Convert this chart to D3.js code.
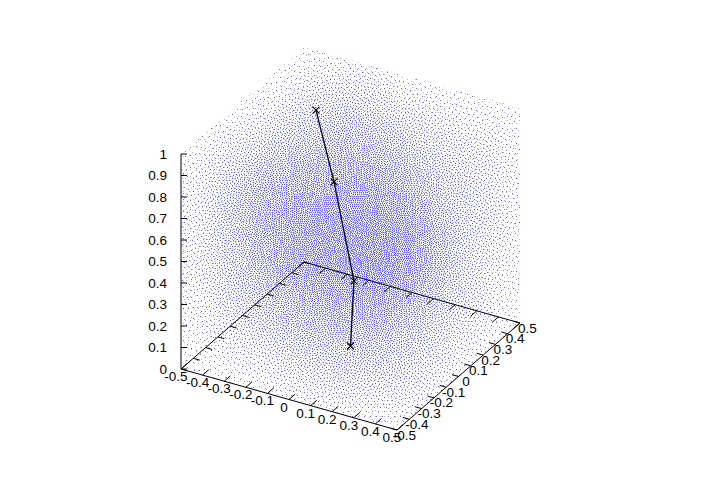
<!DOCTYPE html>
<html>
<head>
<meta charset="utf-8">
<title>Scatter cube</title>
<script src="https://cdn.jsdelivr.net/npm/d3@7.9.0/dist/d3.min.js"></script>
<style>
  html, body { margin: 0; background: #fff; }
  svg { display: block; }
  text { font-family: "Liberation Sans", Helvetica, Arial, sans-serif; font-size: 13.5px; fill: #000; }
</style>
</head>
<body>
<svg id="chart" width="701" height="491"></svg>
<script>
const xTicks = [-0.5, -0.4, -0.3, -0.2, -0.1, 0, 0.1, 0.2, 0.3, 0.4, 0.5];
const yTicks = [-0.5, -0.4, -0.3, -0.2, -0.1, 0, 0.1, 0.2, 0.3, 0.4, 0.5];
const zTicks = [0, 0.1, 0.2, 0.3, 0.4, 0.5, 0.6, 0.7, 0.8, 0.9, 1];

// the black path
const pathX = [-0.1, -0.05, 0.016, 0];
const pathY = [-0.105, -0.046, 0, 0];
const pathZ = [1.121, 0.772, 0.307, 0];

// The cloud has far too many dots to read one by one, so only its density is kept:
// share of covered pixels (%) in 30px screen cells, estimated by eye.
// The dots below are an error diffusion halftone of this table, they are not data points.
const cloudCols = [180, 210, 240, 270, 300, 330, 360, 390, 420, 450, 480, 510];
const cloudRows = [40, 70, 100, 130, 160, 190, 220, 250, 280, 310, 340, 370, 400];
const cloudDensity = [
  [1, 1, 1, 2, 3, 3, 2, 1, 1, 1, 1, 1],
  [1, 1, 2, 4, 8, 9, 8, 4, 3, 2, 2, 2],
  [2, 2, 5, 10, 14, 16, 14, 10, 7, 5, 4, 3],
  [3, 7, 12, 17, 20, 22, 20, 16, 11, 9, 7, 3],
  [5, 12, 19, 24, 27, 28, 27, 22, 15, 11, 8, 3],
  [6, 14, 23, 28, 31, 32, 32, 28, 19, 12, 8, 3],
  [6, 14, 23, 29, 33, 35, 36, 33, 23, 13, 8, 3],
  [6, 13, 21, 28, 33, 35, 36, 33, 23, 12, 7, 3],
  [5, 11, 17, 22, 27, 31, 32, 27, 18, 11, 6, 2],
  [4, 8, 12, 17, 21, 23, 23, 19, 13, 9, 4, 2],
  [3, 5, 7, 11, 14, 16, 16, 14, 10, 5, 2, 1],
  [2, 2, 3, 6, 8, 10, 10, 9, 6, 2, 1, 1],
  [1, 1, 2, 2, 3, 4, 4, 4, 2, 1, 1, 1],
];

// each data axis runs along its own screen direction
const sxX = d3.scaleLinear().domain([-0.5, 0.5]).range([0, 216]);
const syX = d3.scaleLinear().domain([-0.5, 0.5]).range([0, 61]);
const sxY = d3.scaleLinear().domain([-0.5, 0.5]).range([0, 123]);
const syY = d3.scaleLinear().domain([-0.5, 0.5]).range([0, -107]);
const syZ = d3.scaleLinear().domain([0, 1]).range([369, 154]);
const originX = 181;

function project(x, y, z) {
  return [originX + sxX(x) + sxY(y), syZ(z) + syX(x) + syY(y)];
}

const svg = d3.select('#chart');

// outline of the cube on screen
const hull = [
  project(-0.5, -0.5, 1), project(-0.5, 0.5, 1), project(0.5, 0.5, 1),
  project(0.5, 0.5, 0), project(0.5, -0.5, 0), project(-0.5, -0.5, 0),
];
svg.append('clipPath').attr('id', 'hull')
  .append('polygon').attr('points', hull.join(' '));

const cellX = d3.scaleBand().domain(cloudCols).range([180, 540]);
const cellY = d3.scaleBand().domain(cloudRows).range([40, 430]);

// smooth the table between cell centres so the halftone shows no cell edges
function densityAt(x, y) {
  const cell = cellX.bandwidth();
  const u = Math.max(0, Math.min(cloudCols.length - 1.001, x / cell - 0.5));
  const v = Math.max(0, Math.min(cloudRows.length - 1.001, y / cell - 0.5));
  const i = Math.floor(v);
  const j = Math.floor(u);
  const top = d3.interpolateNumber(cloudDensity[i][j], cloudDensity[i][j + 1])(u - j);
  const bottom = d3.interpolateNumber(cloudDensity[i + 1][j], cloudDensity[i + 1][j + 1])(u - j);
  return d3.interpolateNumber(top, bottom)(v - i);
}

// Floyd-Steinberg over the table, serpentine, returns a path of 1px dots
function diffuse(amount, fromBottom) {
  const w = 360;
  const h = 390;
  const err = new Float32Array((w + 2) * (h + 2));
  const dots = d3.path();
  for (let step = 0; step < h; step++) {
    const y = fromBottom ? h - 1 - step : step;
    const next = fromBottom ? -1 : 1;
    const dir = step % 2 ? -1 : 1;
    for (let k = 0; k < w; k++) {
      const x = dir > 0 ? k : w - 1 - k;
      const share = amount * densityAt(x, y) / 100;
      const at = (y + 1) * (w + 2) + x + 1;
      const value = share + err[at];
      const on = value >= 0.5;
      const rest = value - (on ? 1 : 0);
      if (on) dots.rect(cellX(cloudCols[0]) + x, cellY(cloudRows[0]) + y, 1, 1);
      const row = next * (w + 2);
      err[at + dir] += rest * 7 / 16;
      err[at + row - dir] += rest * 3 / 16;
      err[at + row] += rest * 5 / 16;
      err[at + row + dir] += rest * 1 / 16;
    }
  }
  return dots.toString();
}

const cloud = svg.append('g').attr('clip-path', 'url(#hull)');
cloud.append('path').attr('d', diffuse(1.3, false)).attr('fill', '#00f').attr('fill-opacity', 0.33);
cloud.append('path').attr('d', diffuse(0.8, true)).attr('fill', '#00f').attr('fill-opacity', 0.6);

const line = d3.line();
const frame = svg.append('g').attr('fill', 'none').attr('stroke', '#000').attr('stroke-width', 1);

// floor edges and z axis
frame.append('path').attr('d', line([
  project(-0.5, -0.5, 0), project(0.5, -0.5, 0), project(0.5, 0.5, 0),
  project(-0.5, 0.5, 0), project(-0.5, -0.5, 0),
]));
frame.append('path').attr('d', line([project(-0.5, -0.5, 0), project(-0.5, -0.5, 1)]));

// ticks on both opposite edges of the floor
const xTickLen = 0.05;
const yTickLen = 0.03;
xTicks.forEach((t) => {
  frame.append('path').attr('d', line([project(t, -0.5, 0), project(t, -0.5 + xTickLen, 0)]));
  frame.append('path').attr('d', line([project(t, 0.5, 0), project(t, 0.5 - xTickLen, 0)]));
});
yTicks.forEach((t) => {
  frame.append('path').attr('d', line([project(-0.5, t, 0), project(-0.5 + yTickLen, t, 0)]));
  frame.append('path').attr('d', line([project(0.5, t, 0), project(0.5 - yTickLen, t, 0)]));
});
zTicks.forEach((t) => {
  const [px, py] = project(-0.5, -0.5, t);
  frame.append('path').attr('d', line([[px, py], [px + 6, py]]));
});

// tick labels
svg.append('g').selectAll('text').data(xTicks).join('text')
  .attr('x', (d) => project(d, -0.5, 0)[0] - 5)
  .attr('y', (d) => project(d, -0.5, 0)[1] + 12)
  .attr('text-anchor', 'middle')
  .text((d) => d);

svg.append('g').selectAll('text').data(yTicks).join('text')
  .attr('x', (d) => project(0.5, d, 0)[0] + 7.5)
  .attr('y', (d) => project(0.5, d, 0)[1] + 9.5)
  .attr('text-anchor', 'middle')
  .text((d) => d);

svg.append('g').selectAll('text').data(zTicks).join('text')
  .attr('x', 167)
  .attr('y', (d) => syZ(d) + 4.5)
  .attr('text-anchor', 'end')
  .text((d) => d);

// path with x marks
const pathPoints = pathX.map((x, i) => project(x, pathY[i], pathZ[i]));
const pathGroup = svg.append('g').attr('fill', 'none').attr('stroke', '#000').attr('stroke-width', 1.3);
pathGroup.append('path').attr('d', line(pathPoints));
pathGroup.selectAll('path.mark').data(pathPoints).join('path')
  .attr('class', 'mark')
  .attr('stroke-width', 1.1)
  .attr('d', ([px, py]) => `M${px - 3.5},${py - 3.5}L${px + 3.5},${py + 3.5}M${px - 3.5},${py + 3.5}L${px + 3.5},${py - 3.5}`);
</script>
</body>
</html>
